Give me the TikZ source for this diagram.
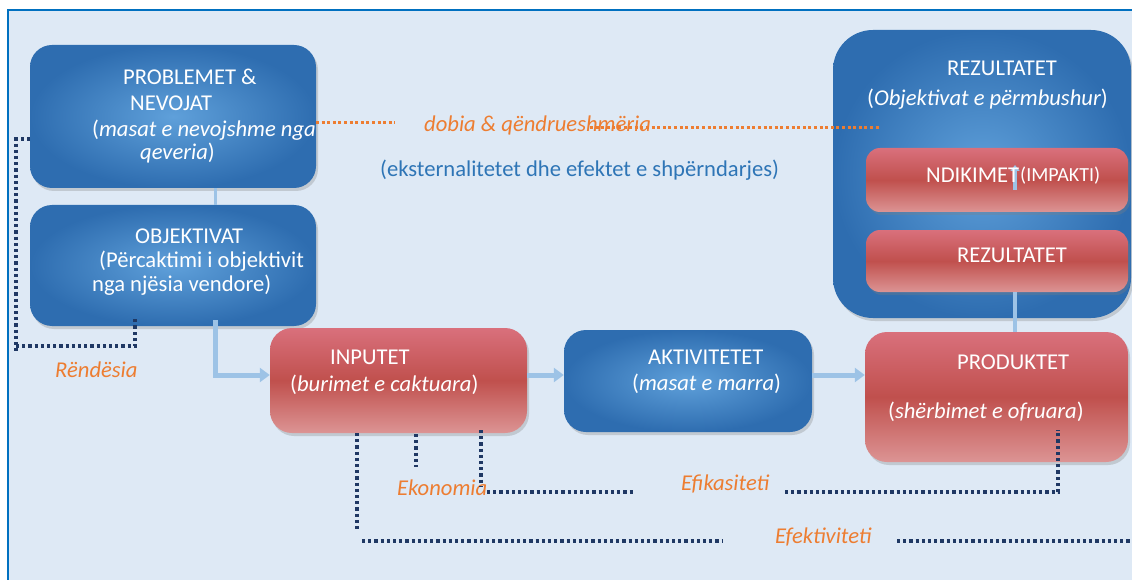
\documentclass[tikz,border=0pt]{standalone}
\usepackage{fontspec}
\setmainfont{Carlito}
\usetikzlibrary{arrows.meta,shadows}
\definecolor{bg}{HTML}{DEE9F5}
\definecolor{framec}{HTML}{0070C0}
\definecolor{bluein}{HTML}{5FA0DA}
\definecolor{blueout}{HTML}{2E6DB0}
\definecolor{redtop}{HTML}{D9707C}
\definecolor{redmid}{HTML}{C0504D}
\definecolor{redbot}{HTML}{DC9494}
\definecolor{arrowblue}{HTML}{9DC3E6}
\definecolor{navy}{HTML}{1F3864}
\definecolor{orng}{HTML}{ED7D31}
\definecolor{txtblue}{HTML}{2E75B6}
\begin{document}
\begin{tikzpicture}[x=1pt,y=-1pt,
  box/.style={rounded corners=22pt, draw=none, inner sep=0pt,
    drop shadow={opacity=0.3,shadow xshift=2pt,shadow yshift=-3pt}},
  bluebox/.style={box, inner color=bluein, outer color=blueout},
  redbox/.style={box, top color=redtop, bottom color=redbot, middle color=redmid},
  wt/.style={text=white, font=\fontsize{22.6}{26}\selectfont, inner sep=0pt, anchor=west},
  lab/.style={text=orng, font=\fontsize{22.6}{26}\selectfont\itshape, inner sep=0pt, anchor=west},
  flow/.style={draw=arrowblue, line width=5pt, -{Triangle[length=10pt,width=14pt]}},
  ndot/.style={draw=navy, line width=3.2pt, dash pattern=on 3.2pt off 3pt},
  odot/.style={draw=orng, line width=3pt, dash pattern=on 3pt off 2.6pt}]
\useasboundingbox (0,0) rectangle (1132,580);
\fill[white] (0,0) rectangle (1132,580);
\fill[bg] (8,10) rectangle (1132,580);
\draw[framec, line width=2.5pt] (8,580) -- (8,10) -- (1132,10);

% boxes
\node[bluebox, minimum width=286pt, minimum height=143pt] (probl) at (173,116.5) {};
\node[bluebox, minimum width=286pt, minimum height=121pt] (objek) at (173,265.5) {};
\node[redbox, minimum width=257pt, minimum height=105pt] (input) at (398.5,380.5) {};
\node[bluebox, minimum width=248pt, minimum height=102pt] (aktiv) at (688,381) {};
\node[redbox, minimum width=263pt, minimum height=130pt] (produkt) at (996.5,397) {};
\node[bluebox, rounded corners=40pt, minimum width=298pt, minimum height=288pt] (rezout) at (982,174) {};
\node[redbox, rounded corners=14pt, minimum width=262pt, minimum height=64pt] (ndik) at (997,180) {};
\node[redbox, rounded corners=14pt, minimum width=262pt, minimum height=62pt] (rezin) at (997,261) {};

% flow connectors
\coordinate (fy) at (0,375);
\coordinate (a1) at (215,320);
\coordinate (cx) at (215,0);
\coordinate (px) at (1015,0);
\draw[arrowblue, line width=3pt] (probl.south -| cx) -- (objek.north -| cx);
\draw[flow] (a1) |- (input.west |- fy);
\draw[flow] (input.east |- fy) -- (aktiv.west |- fy);
\draw[flow] (aktiv.east |- fy) -- (produkt.west |- fy);
\draw[arrowblue, line width=4pt] (produkt.north -| px) -- (rezin.south -| px);
\coordinate (ia) at (1015,190);
\coordinate (ib) at (1015,165);
\draw[arrowblue, line width=3.5pt, -{Triangle[length=6pt,width=9pt]}] (ia) -- (ib);

% box texts
\node[wt] (t1) at (123,77) {PROBLEMET \&};
\node[wt] (t2) at (130,103) {NEVOJAT};
\node[wt] (t3) at (92,130) {(\textit{masat e nevojshme nga}};
\node[wt] (t4) at (140,153) {\textit{qeveria})};
\node[wt] (t5) at (135,236) {OBJEKTIVAT};
\node[wt] (t6) at (99,261) {(Përcaktimi i objektivit};
\node[wt] (t7) at (92,285) {nga njësia vendore)};
\node[wt] (t8) at (330,357) {INPUTET};
\node[wt] (t9) at (290,385) {(\textit{burimet e caktuara})};
\node[wt] (t10) at (648,357) {AKTIVITETET};
\node[wt] (t11) at (632,384) {(\textit{masat e marra})};
\node[wt] (t12) at (957,362) {PRODUKTET};
\node[wt] (t13) at (888,412) {(\textit{shërbimet e ofruara})};
\node[wt] (t14) at (947,68) {REZULTATET};
\node[wt] (t15) at (867,99) {(\textit{Objektivat e përmbushur})};
\node[wt] (t16) at (926,175) {NDIKIMET};
\node[wt, font=\fontsize{20}{23}\selectfont] (t17) at (1020,176) {(IMPAKTI)};
\node[wt] (t18) at (957,255) {REZULTATET};

% labels
\node[lab] (rend) at (55,370) {Rëndësia};
\node[lab] (ekon) at (397,488) {Ekonomia};
\node[lab] (efik) at (681,484) {Efikasiteti};
\node[lab] (efek) at (775,537) {Efektiviteti};
\node[lab] (dobia) at (424,125) {dobia \& qëndrueshmëria};
\node[text=txtblue, font=\fontsize{22.6}{26}\selectfont, inner sep=0pt, anchor=west] (ekst) at (380,170) {(eksternalitetet dhe efektet e shpërndarjes)};

% Rëndësia loop
\coordinate (r0) at (30,139);
\coordinate (r1) at (16,139);
\coordinate (r2) at (16,352);
\coordinate (r3) at (16,346);
\coordinate (r4) at (135,346);
\coordinate (r5) at (135,318);
\draw[ndot] (r0) -- (r1) -- (r2);
\draw[ndot] (r3) -- (r4) -- (r5);

% Efektiviteti
\coordinate (e1) at (357,433);
\coordinate (e2) at (357,530);
\coordinate (e3) at (362,541);
\coordinate (e4) at (722,541);
\coordinate (e5) at (897,541);
\coordinate (e6) at (1132,541);
\draw[ndot] (e1) -- (e2);
\draw[ndot] (e3) -- (e4);
\draw[ndot] (e5) -- (e6);

% Ekonomia
\coordinate (k1) at (416,434);
\coordinate (k2) at (416,467);
\coordinate (k3) at (481,430);
\coordinate (k4) at (481,486);
\coordinate (k5) at (487,492);
\coordinate (k6) at (635,492);
\draw[ndot] (k1) -- (k2);
\draw[ndot] (k3) -- (k4);
\draw[ndot] (k5) -- (k6);

% Efikasiteti
\coordinate (f1) at (785,492);
\coordinate (f2) at (1058,492);
\coordinate (f3) at (1058,430);
\draw[ndot] (f1) -- (f2) -- (f3);

% dobia
\coordinate (o1) at (316,123);
\coordinate (o2) at (395,123);
\coordinate (o3) at (590,128);
\coordinate (o4) at (880,128);
\draw[odot] (o1) -- (o2);
\draw[odot] (o3) -- (o4);
\end{tikzpicture}
\end{document}
